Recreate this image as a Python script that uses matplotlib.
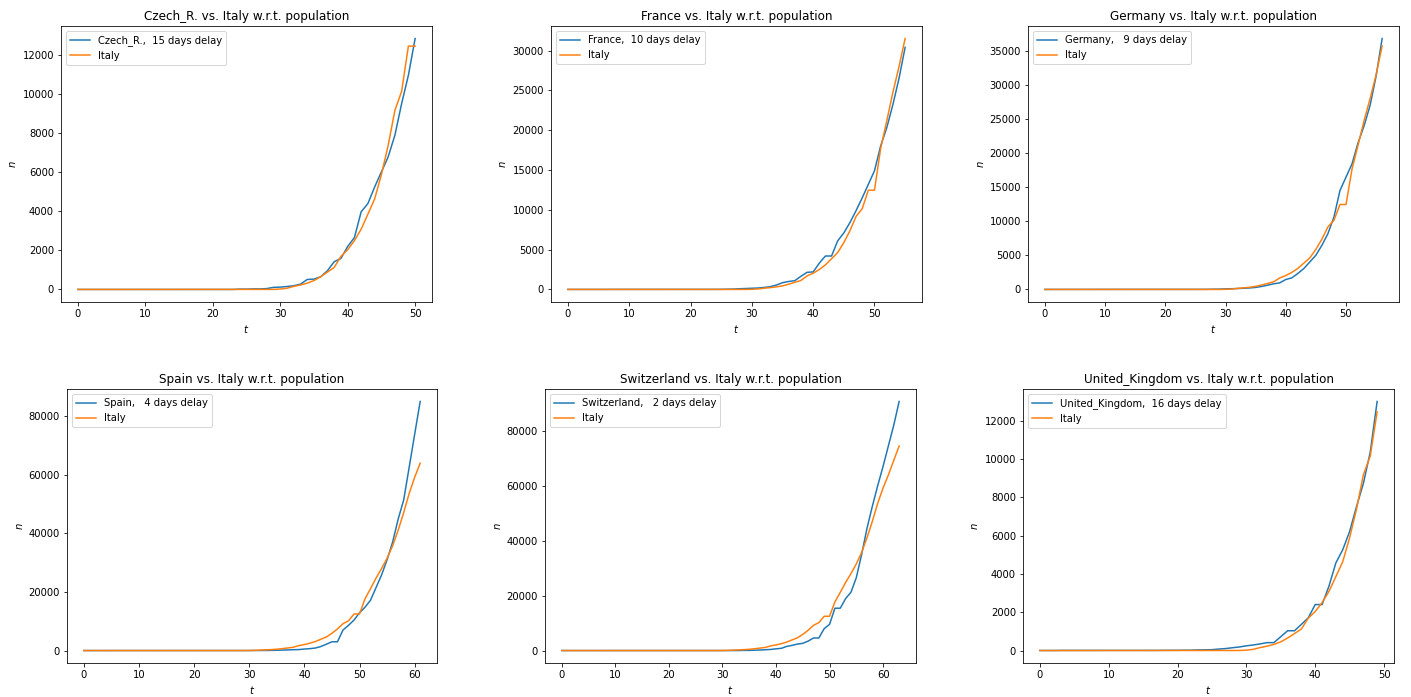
import matplotlib
matplotlib.use("Agg")
import matplotlib.pyplot as plt
import numpy as np

DPI = 72

# Italy, cumulative cases, t = 0..63
ITALY = [0, 0, 0, 0, 0, 0, 0, 0, 0,
         2, 2, 2, 2, 2, 2, 2,
         3, 3, 3, 3, 3, 3, 3, 3, 3, 3, 3, 3, 3, 3,
         20, 62, 155, 229, 322, 453, 655, 888, 1128, 1694,
         2036, 2502, 3089, 3858, 4636, 5883, 7375, 9172, 10149, 12462,
         12462, 17660, 21157, 24747, 27980, 31506, 35713, 41035, 47021, 53578,
         59138, 63927, 69176, 74386]

CZECH = [0, 0, 0, 0, 0, 0, 0, 0, 0, 0, 0, 0, 0, 0, 0, 0, 0, 0, 0, 0, 0, 0, 0, 0,
         17, 17, 28, 28, 45, 107, 120, 150, 190, 270,
         510, 530, 650, 960, 1420, 1590, 2200, 2660, 3980, 4400,
         5250, 6020, 6790, 7900, 9520, 10970, 12850]

FRANCE = [5, 5, 5, 5, 5, 5, 5,
          10, 10, 10, 10, 10, 10, 10,
          11, 11, 11, 11, 11, 11, 11, 11, 11, 11,
          13, 16, 34, 51, 90, 117, 150, 180, 250, 350,
          550, 850, 1000, 1100, 1650, 2150, 2200, 3300, 4200, 4200,
          6100, 7100, 8400, 9900, 11500, 13200, 14900, 18000, 20300, 23200,
          26500, 30400]

GERMANY = [4, 6, 6, 6, 9, 9, 9, 10, 10, 10, 10,
           12, 12, 12, 12, 12, 12, 12, 12, 12, 12, 12, 12, 12, 12,
           13, 15, 19, 39, 48, 85, 109, 137, 174, 220,
           300, 440, 630, 830, 970, 1460, 1700, 2340, 3070, 4040,
           5020, 6480, 8190, 10620, 14520, 16470, 18420, 21500, 24000, 27000,
           31300, 36800]

SPAIN = [0, 0, 0, 0, 0, 0,
         1, 1, 1, 1, 1, 1, 1, 1,
         3, 3, 3, 3, 3, 3, 3, 3, 3, 3, 3, 3, 3, 3, 3,
         4, 8, 17, 19, 41, 58, 108, 154, 212, 285,
         333, 514, 643, 865, 1380, 2180, 3000, 3000, 7000, 8600,
         10400, 12900, 14800, 17200, 21500, 25800, 31000, 37000, 44800, 51300,
         62500, 73800, 85000]

SWITZERLAND = [0, 0, 0, 0, 0, 0, 0, 0, 0, 0, 0, 0, 0, 0, 0, 0,
               0, 0, 0, 0, 0, 0, 0, 0, 0, 0, 0, 0, 0, 0, 0, 0,
               7, 7, 56, 56, 126, 189, 294, 392, 630, 800,
               1500, 1880, 2360, 2620, 3440, 4560, 4560, 7970, 9510, 15400,
               15400, 18900, 21200, 26500, 35000, 44500, 52500, 60000, 67000, 74500,
               82000, 90600]

UK = [3, 3, 3, 7, 7,
      8, 8, 8, 8, 8, 8, 8, 8, 8, 8, 8, 8, 8,
      12, 12, 14, 18, 21, 33, 36, 46, 77, 104, 148, 187,
      247, 291, 346, 413, 413, 723, 1033, 1033, 1370, 1710,
      2400, 2400, 3360, 4570, 5260, 6210, 7510, 8720, 10360, 13000]

NAMES = ["Czech_R.", "France", "Germany", "Spain", "Switzerland", "United_Kingdom"]
DELAYS = [15, 10, 9, 4, 2, 16]
SERIES = [CZECH, FRANCE, GERMANY, SPAIN, SWITZERLAND, UK]

# axes boxes in pixels: left, top, right, bottom
BOXES = [(61, 26, 432, 302), (551, 26, 922, 302), (1028, 26, 1399, 302),
         (67, 389, 437, 663), (545, 389, 916, 663), (1023, 389, 1394, 663)]

W, H = 1411, 697
fig = plt.figure(figsize=(W / DPI, H / DPI), dpi=DPI)

for name, delay, data, box in zip(NAMES, DELAYS, SERIES, BOXES):
    l, t, r, b = box
    ax = fig.add_axes([l / W, 1 - b / H, (r - l) / W, (b - t) / H])
    n = len(data)
    tt = np.arange(n)
    ax.plot(tt, data, color="#1f77b4", lw=1.5,
            label="{}, {:3d} days delay".format(name, delay))
    ax.plot(tt, ITALY[:n], color="#ff7f0e", lw=1.5, label="Italy")
    ax.set_title("{} vs. Italy w.r.t. population".format(name))
    ax.set_xlabel("$t$")
    ax.set_ylabel("$n$")
    ax.legend(loc="upper left")

fig.savefig("out.png", dpi=DPI)
